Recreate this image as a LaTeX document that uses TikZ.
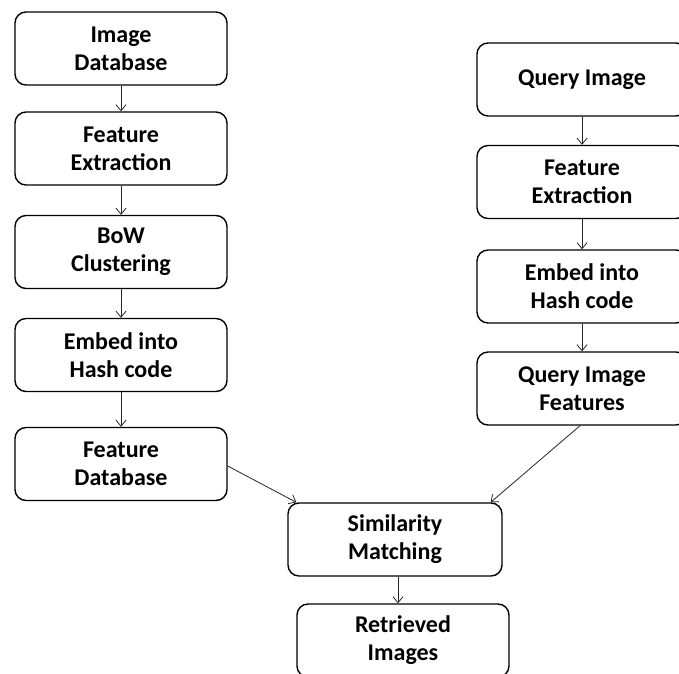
\documentclass[tikz,border=0pt]{standalone}
\usepackage{fontspec}
\setmainfont{Carlito}
\usetikzlibrary{arrows.meta}
\tikzset{
  stage/.style={draw, line width=1.4pt, rounded corners=11pt, align=center,
    minimum width=212pt, minimum height=73pt, inner sep=0pt,
    font=\fontsize{24}{28}\selectfont\bfseries},
  flow/.style={-{Straight Barb[length=6pt,width=10pt]}, line width=0.8pt, draw=black!85}
}
\begin{document}
\begin{tikzpicture}[x=1pt, y=-1pt]
  \useasboundingbox (0,0) rectangle (679,673);
  \draw
    (121,48.5) node[stage] (imgdb){Image\\Database}
    (121,148.5) node[stage] (featl){Feature\\Extraction}
    (121,252) node[stage] (bow){BoW\\Clustering}
    (121,355) node[stage] (hashl){Embed into\\Hash code}
    (121,464) node[stage] (featdb){Feature\\Database}
    (582,79.5) node[stage, minimum width=210pt] (query){Query Image}
    (582,182) node[stage, minimum width=210pt] (featr){Feature\\Extraction}
    (582,286.5) node[stage, minimum width=210pt] (hashr){Embed into\\Hash code}
    (582,388.5) node[stage, minimum width=210pt] (qfeat){Query Image\\Features}
    (395,539.5) node[stage, minimum width=214pt] (sim){Similarity\\Matching}
    (403,640.5) node[stage] (ret){Retrieved\\Images};
  \begin{scope}[flow]
    \draw (imgdb) to (featl);
    \draw (featl) to (bow);
    \draw (bow) to (hashl);
    \draw (hashl) to (featdb);
    \draw (query) to (featr);
    \draw (featr) to (hashr);
    \draw (hashr) to (qfeat);
    \draw ([yshift=-2pt]featdb.east) to ([xshift=9pt]sim.north west);
    \draw ([xshift=-2pt]qfeat.south) to ([xshift=-12pt]sim.north east);
    \draw ([xshift=3pt]sim.south) to ([xshift=-5pt]ret.north);
  \end{scope}
\end{tikzpicture}
\end{document}
